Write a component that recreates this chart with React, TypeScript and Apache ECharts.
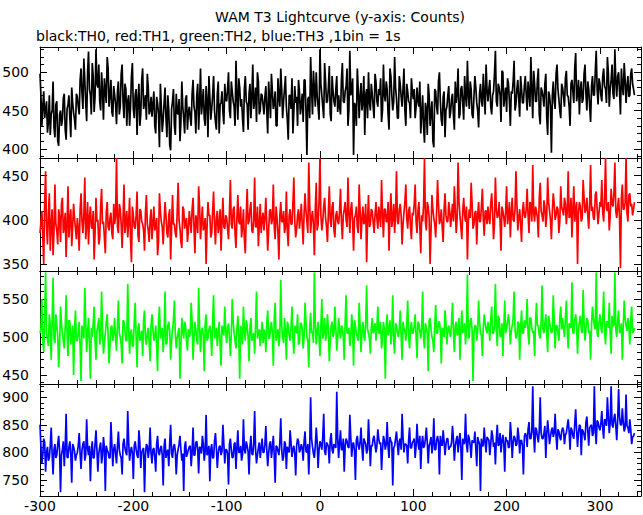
import React, { useEffect, useRef } from "react";
import * as echarts from "echarts";

// 1 bin = 1 s. Each channel is given as counts at even seconds (t = -300, -298, ...)
// and counts at odd seconds (t = -299, -297, ...).
const T_START = -300;
const X_MIN = -300;
const X_MAX = 344;

const TITLE = "WAM T3 Lightcurve (y-axis: Counts)";
const SUBTITLE = "black:TH0, red:TH1, green:TH2, blue:TH3 ,1bin = 1s";

// TH0 (black)
const TH0_EVEN = [
  498, 430, 475, 452, 421, 470, 445, 488, 415, 462, 404, 450, 438, 472, 412, 458, 440, 480, 447, 425,
  468, 445, 505, 452, 490, 436, 527, 470, 512, 448, 530, 480, 462, 500, 438, 475, 520, 455, 490, 442,
  470, 432, 488, 455, 510, 440, 478, 462, 430, 495, 452, 470, 418, 485, 445, 505, 460, 438, 480, 450,
  442, 475, 420, 460, 402, 455, 438, 480, 415, 450, 398, 462, 430, 472, 445, 410, 488, 440, 465, 425,
  455, 430, 490, 448, 470, 425, 505, 460, 440, 482, 415, 468, 452, 495, 435, 472, 420, 460, 448, 485,
  462, 500, 440, 475, 455, 515, 438, 480, 465, 422, 495, 458, 472, 440, 510, 462, 435, 488, 450, 470,
  445, 482, 420, 465, 498, 452, 475, 430, 468, 505, 440, 478, 455, 412, 470, 492, 448, 460, 430, 475,
  458, 435, 490, 392, 468, 520, 445, 478, 500, 455, 530, 470, 440, 488, 462, 508, 436, 475, 455, 495,
  470, 445, 512, 460, 482, 430, 528, 475, 392, 455, 505, 440, 486, 462, 418, 478, 500, 450, 472, 440,
  488, 455, 470, 435, 510, 462, 478, 425, 495, 450, 520, 466, 440, 485, 455, 505, 430, 475, 460, 492,
  465, 440, 480, 455, 420, 470, 408, 452, 485, 430, 462, 402, 475, 445, 500, 438, 468, 415, 455, 482,
  448, 472, 425, 460, 505, 445, 482, 438, 470, 515, 452, 478, 440, 495, 460, 428, 485, 455, 470, 510,
  462, 490, 445, 475, 528, 455, 480, 435, 500, 468, 448, 485, 430, 472, 515, 458, 490, 442, 478, 460,
  495, 450, 472, 520, 440, 485, 462, 505, 432, 475, 455, 498, 418, 470, 395, 488, 452, 510, 465, 440,
  480, 455, 502, 468, 430, 490, 460, 525, 472, 445, 488, 465, 510, 450, 478, 435, 495, 470, 528, 458,
  485, 462, 505, 478, 520, 455, 490, 472, 530, 468, 500, 445, 482, 512, 460, 495, 470, 505, 478,
];
const TH0_ODD = [
  470, 455, 440, 462, 435, 418, 450, 428, 458, 410, 445, 430, 466, 425, 452, 470, 415, 460, 438, 472,
  455, 490, 472, 518, 460, 500, 478, 445, 495, 468, 485, 510, 450, 475, 492, 460, 505, 470, 448, 482,
  458, 475, 445, 498, 462, 485, 430, 470, 455, 512, 440, 478, 465, 430, 490, 452, 470, 498, 445, 468,
  458, 430, 468, 445, 485, 422, 460, 440, 470, 405, 452, 478, 418, 448, 465, 435, 455, 420, 470, 448,
  440, 472, 455, 420, 485, 460, 445, 478, 430, 462, 495, 438, 470, 450, 425, 488, 458, 475, 432, 465,
  478, 450, 488, 462, 430, 470, 492, 455, 440, 478, 462, 425, 485, 468, 452, 480, 500, 445, 472, 458,
  468, 450, 488, 440, 475, 460, 430, 492, 455, 478, 462, 495, 438, 470, 452, 420, 482, 468, 490, 445,
  472, 490, 450, 465, 440, 478, 502, 455, 470, 438, 485, 455, 512, 460, 480, 445, 495, 462, 478, 448,
  455, 490, 462, 475, 505, 450, 470, 492, 460, 430, 478, 468, 450, 495, 470, 440, 462, 485, 455, 498,
  462, 478, 492, 450, 470, 488, 445, 505, 470, 462, 480, 440, 495, 468, 478, 450, 485, 462, 440, 475,
  478, 455, 462, 488, 445, 430, 460, 418, 470, 448, 410, 478, 455, 488, 462, 430, 475, 450, 470, 440,
  465, 445, 488, 472, 440, 478, 460, 495, 455, 470, 488, 445, 468, 480, 450, 472, 462, 498, 445, 478,
  478, 455, 470, 498, 462, 485, 470, 502, 455, 480, 492, 462, 475, 488, 450, 478, 465, 495, 460, 482,
  470, 488, 455, 478, 502, 462, 490, 445, 480, 468, 485, 440, 475, 455, 470, 462, 498, 478, 450, 485,
  468, 492, 470, 455, 485, 475, 505, 462, 490, 478, 460, 498, 472, 488, 455, 482, 470, 500, 478, 492,
  470, 495, 482, 460, 500, 478, 510, 465, 488, 495, 475, 505, 470, 490, 482, 468, 498, 485, 470,
];

// TH1 (red)
const TH1_EVEN = [
  385, 410, 350, 455, 372, 430, 395, 360, 440, 388, 412, 375, 425, 392, 358, 438, 400, 370, 418, 390,
  402, 365, 430, 385, 448, 395, 372, 415, 390, 355, 425, 400, 380, 435, 398, 362, 420, 388, 408, 378,
  395, 470, 385, 412, 368, 440, 398, 380, 425, 352, 405, 390, 432, 375, 410, 395, 365, 428, 388, 400,
  378, 415, 392, 360, 430, 398, 372, 420, 385, 405, 355, 428, 395, 380, 442, 390, 368, 412, 398, 375,
  410, 385, 425, 362, 400, 438, 378, 415, 392, 350, 420, 405, 385, 432, 372, 410, 395, 365, 425, 390,
  402, 378, 445, 390, 415, 368, 428, 395, 380, 412, 362, 435, 398, 420, 385, 448, 392, 370, 418, 400,
  388, 425, 365, 410, 395, 440, 378, 402, 355, 420, 398, 385, 432, 370, 412, 395, 448, 380, 405, 390,
  418, 372, 430, 398, 465, 385, 410, 360, 442, 395, 470, 388, 415, 402, 375, 438, 392, 420, 380, 410,
  395, 435, 378, 412, 400, 448, 385, 420, 365, 405, 392, 440, 378, 415, 398, 352, 428, 395, 410, 385,
  420, 390, 405, 445, 380, 412, 398, 365, 430, 402, 385, 455, 395, 418, 372, 408, 440, 390, 415, 378,
  405, 440, 385, 420, 362, 398, 470, 388, 415, 350, 428, 402, 380, 445, 395, 412, 375, 430, 398, 420,
  392, 418, 438, 385, 465, 405, 378, 425, 398, 355, 412, 442, 390, 408, 372, 420, 398, 435, 382, 410,
  415, 395, 430, 378, 448, 402, 420, 365, 410, 392, 438, 405, 380, 425, 398, 455, 388, 412, 375, 420,
  402, 435, 385, 418, 462, 398, 410, 380, 442, 405, 422, 392, 448, 410, 378, 430, 400, 415, 385, 438,
  410, 425, 395, 455, 405, 380, 438, 412, 350, 420, 398, 445, 408, 425, 390, 462, 415, 400, 432, 395,
  420, 445, 398, 470, 410, 388, 435, 415, 465, 402, 425, 345, 440, 412, 470, 398, 430, 418, 412,
];
const TH1_ODD = [
  398, 380, 420, 392, 405, 365, 412, 388, 395, 372, 402, 418, 385, 408, 395, 380, 412, 392, 402, 378,
  390, 412, 398, 405, 378, 420, 402, 392, 410, 385, 398, 372, 415, 395, 380, 408, 392, 402, 385, 418,
  405, 392, 418, 395, 402, 385, 410, 398, 378, 415, 392, 405, 382, 412, 398, 388, 408, 395, 375, 412,
  395, 388, 402, 375, 410, 392, 398, 405, 380, 412, 392, 395, 385, 408, 400, 375, 415, 390, 402, 388,
  398, 412, 392, 405, 385, 415, 398, 388, 402, 392, 405, 380, 410, 395, 402, 385, 412, 398, 392, 405,
  390, 408, 395, 412, 385, 402, 398, 415, 392, 378, 405, 395, 412, 388, 400, 392, 415, 395, 385, 408,
  402, 395, 388, 412, 400, 392, 415, 385, 405, 398, 410, 392, 388, 405, 395, 418, 398, 390, 412, 402,
  395, 408, 410, 385, 418, 402, 395, 412, 388, 420, 405, 398, 425, 392, 408, 400, 415, 388, 405, 398,
  410, 398, 405, 420, 392, 408, 412, 398, 402, 415, 385, 410, 402, 395, 418, 400, 392, 412, 398, 405,
  402, 415, 392, 408, 412, 398, 420, 405, 392, 418, 408, 398, 412, 405, 395, 420, 402, 410, 392, 408,
  418, 398, 410, 392, 405, 415, 398, 420, 402, 388, 412, 395, 408, 418, 400, 392, 412, 405, 398, 410,
  405, 398, 412, 402, 420, 392, 410, 405, 415, 398, 402, 418, 395, 410, 405, 398, 415, 402, 410, 395,
  402, 418, 408, 395, 412, 405, 398, 415, 402, 410, 395, 420, 408, 400, 412, 418, 402, 395, 410, 405,
  412, 405, 420, 398, 408, 415, 402, 425, 410, 398, 415, 405, 420, 400, 410, 418, 405, 412, 398, 415,
  405, 418, 410, 402, 425, 412, 398, 420, 408, 415, 402, 425, 412, 405, 418, 410, 402, 428, 412, 408,
  415, 408, 425, 412, 420, 405, 418, 430, 410, 415, 402, 425, 412, 420, 408, 428, 415, 405, 420,
];

// TH2 (green)
const TH2_EVEN = [
  505, 550, 480, 585, 498, 530, 470, 578, 492, 515, 460, 540, 505, 485, 555, 475, 520, 500, 450, 535,
  495, 520, 442, 510, 565, 480, 525, 445, 500, 540, 470, 515, 490, 560, 478, 505, 530, 465, 512, 495,
  525, 482, 548, 500, 465, 520, 495, 570, 478, 510, 488, 545, 460, 518, 500, 475, 535, 490, 512, 468,
  530, 495, 515, 455, 540, 505, 480, 560, 492, 520, 470, 510, 548, 485, 505, 445, 525, 498, 515, 482,
  500, 545, 470, 520, 495, 565, 480, 512, 455, 530, 498, 515, 475, 555, 505, 488, 520, 462, 510, 540,
  492, 518, 475, 550, 505, 485, 528, 445, 510, 540, 495, 515, 468, 525, 500, 478, 560, 505, 488, 520,
  510, 480, 535, 498, 520, 462, 545, 505, 488, 575, 500, 525, 470, 515, 495, 540, 478, 510, 530, 492,
  518, 485, 545, 500, 460, 532, 508, 585, 490, 520, 475, 550, 505, 495, 530, 468, 515, 500, 540, 482,
  525, 498, 512, 470, 555, 505, 488, 530, 462, 515, 500, 545, 480, 520, 495, 568, 505, 478, 525, 510,
  495, 540, 505, 485, 520, 445, 530, 510, 490, 555, 478, 515, 500, 535, 470, 512, 495, 548, 485, 520,
  505, 530, 472, 518, 498, 560, 485, 512, 455, 525, 500, 480, 542, 505, 520, 465, 510, 535, 490, 515,
  500, 545, 480, 520, 505, 470, 535, 510, 490, 582, 500, 525, 442, 515, 495, 548, 505, 475, 530, 510,
  520, 495, 540, 505, 570, 488, 525, 500, 475, 548, 512, 530, 490, 515, 560, 498, 520, 470, 535, 505,
  512, 550, 490, 525, 505, 475, 545, 515, 498, 568, 505, 530, 480, 520, 505, 555, 485, 515, 495, 540,
  525, 500, 548, 485, 515, 572, 505, 530, 478, 520, 510, 562, 495, 525, 505, 470, 540, 515, 585, 500,
  530, 505, 560, 490, 520, 545, 478, 515, 585, 500, 535, 510, 470, 548, 515, 525, 490, 540, 508,
];
const TH2_ODD = [
  512, 495, 525, 505, 488, 515, 520, 498, 530, 502, 488, 518, 495, 512, 505, 522, 490, 515, 508, 495,
  505, 488, 515, 498, 522, 505, 490, 512, 518, 495, 508, 525, 498, 510, 492, 520, 502, 488, 515, 505,
  498, 515, 505, 490, 522, 508, 495, 512, 505, 488, 520, 500, 512, 495, 508, 522, 498, 505, 492, 515,
  510, 502, 488, 520, 498, 512, 505, 490, 515, 508, 495, 522, 505, 498, 512, 490, 508, 520, 495, 510,
  505, 520, 498, 510, 490, 515, 508, 502, 518, 495, 510, 505, 522, 498, 512, 505, 490, 515, 502, 508,
  512, 498, 505, 520, 495, 510, 502, 515, 490, 508, 522, 500, 512, 495, 505, 518, 498, 510, 505, 492,
  505, 518, 498, 512, 505, 525, 495, 510, 502, 515, 492, 508, 520, 502, 512, 498, 515, 505, 490, 518,
  510, 502, 520, 495, 512, 505, 492, 518, 508, 500, 515, 498, 525, 505, 510, 495, 520, 505, 512, 498,
  508, 515, 500, 520, 505, 512, 498, 510, 522, 505, 495, 515, 508, 502, 520, 510, 498, 512, 505, 518,
  512, 505, 520, 498, 510, 515, 502, 522, 508, 495, 518, 505, 512, 500, 520, 508, 515, 502, 510, 505,
  515, 502, 520, 508, 512, 498, 518, 505, 522, 510, 495, 515, 505, 520, 508, 512, 500, 518, 510, 505,
  520, 508, 515, 502, 525, 510, 505, 518, 512, 498, 522, 510, 505, 515, 508, 520, 502, 512, 518, 505,
  512, 522, 505, 515, 510, 528, 502, 518, 512, 505, 520, 515, 508, 525, 510, 502, 518, 512, 505, 522,
  518, 505, 525, 512, 508, 520, 515, 502, 522, 510, 518, 505, 528, 512, 508, 520, 515, 505, 525, 510,
  512, 525, 508, 518, 512, 505, 522, 515, 510, 528, 505, 518, 512, 522, 508, 515, 525, 510, 505, 520,
  515, 525, 508, 520, 512, 505, 528, 515, 510, 522, 505, 518, 512, 525, 508, 515, 520, 505, 512,
];

// TH3 (blue)
const TH3_EVEN = [
  850, 780, 825, 765, 810, 790, 845, 760, 815, 795, 830, 728, 805, 775, 870, 790, 820, 745, 810, 785,
  800, 835, 770, 815, 785, 860, 795, 748, 820, 790, 840, 765, 810, 780, 828, 730, 805, 790, 855, 775,
  815, 780, 838, 795, 760, 825, 800, 875, 785, 810, 752, 820, 795, 840, 772, 805, 728, 815, 790, 845,
  780, 808, 765, 830, 795, 812, 740, 825, 800, 775, 850, 790, 815, 760, 805, 830, 785, 730, 820, 798,
  810, 775, 845, 795, 820, 762, 808, 830, 785, 868, 800, 748, 815, 790, 835, 772, 810, 795, 850, 780,
  805, 742, 825, 790, 815, 770, 840, 800, 785, 860, 798, 812, 760, 830, 795, 875, 780, 808, 790, 825,
  800, 848, 775, 815, 790, 830, 745, 810, 795, 862, 785, 820, 770, 805, 840, 792, 812, 758, 825, 800,
  815, 785, 838, 800, 760, 900, 810, 790, 845, 772, 820, 805, 870, 795, 815, 780, 835, 798, 812, 910,
  790, 840, 805, 765, 825, 810, 868, 792, 818, 750, 830, 805, 845, 785, 820, 798, 860, 775, 812, 830,
  800, 842, 815, 768, 830, 805, 855, 790, 820, 740, 812, 838, 795, 825, 870, 800, 815, 780, 845, 808,
  820, 790, 852, 805, 770, 830, 812, 845, 780, 818, 798, 862, 805, 830, 760, 815, 840, 795, 825, 805,
  810, 848, 785, 822, 800, 835, 750, 815, 870, 800, 825, 790, 818, 838, 775, 820, 730, 812, 845, 800,
  825, 795, 840, 810, 778, 850, 815, 800, 832, 765, 820, 808, 855, 790, 830, 812, 845, 798, 822, 760,
  835, 810, 855, 825, 920, 800, 842, 818, 900, 825, 835, 790, 858, 815, 840, 828, 870, 805, 838, 822,
  845, 815, 835, 860, 805, 840, 825, 878, 810, 850, 795, 838, 822, 865, 812, 848, 830, 920, 815, 855,
  840, 875, 825, 858, 900, 835, 920, 845, 870, 822, 915, 850, 880, 838, 905, 845, 860, 815, 830,
];
const TH3_ODD = [
  810, 795, 818, 800, 785, 812, 798, 805, 790, 815, 802, 795, 820, 808, 792, 810, 798, 815, 802, 795,
  812, 798, 805, 820, 795, 808, 812, 800, 790, 815, 805, 798, 818, 795, 808, 812, 800, 790, 815, 805,
  798, 812, 805, 790, 815, 808, 795, 820, 802, 798, 812, 805, 790, 818, 800, 808, 795, 812, 805, 798,
  805, 792, 815, 800, 808, 795, 812, 790, 805, 818, 798, 810, 802, 795, 815, 805, 798, 810, 792, 805,
  812, 800, 795, 818, 805, 810, 798, 815, 802, 795, 812, 805, 790, 820, 808, 798, 812, 802, 815, 805,
  798, 815, 805, 792, 818, 808, 800, 812, 795, 805, 820, 802, 810, 798, 815, 805, 795, 818, 808, 800,
  815, 805, 798, 820, 808, 795, 812, 802, 818, 805, 792, 815, 810, 800, 818, 805, 798, 812, 820, 805,
  808, 820, 802, 815, 810, 825, 798, 812, 820, 805, 815, 828, 802, 818, 810, 822, 805, 815, 808, 825,
  818, 805, 825, 812, 820, 808, 828, 815, 802, 822, 812, 818, 808, 825, 815, 805, 820, 812, 825, 815,
  812, 825, 818, 805, 822, 815, 810, 828, 818, 808, 825, 815, 820, 805, 828, 815, 812, 822, 808, 818,
  825, 812, 818, 830, 815, 808, 825, 818, 812, 828, 815, 805, 822, 818, 830, 812, 820, 815, 825, 810,
  818, 825, 812, 830, 820, 808, 825, 818, 815, 832, 812, 822, 818, 808, 828, 815, 825, 812, 820, 828,
  822, 815, 830, 818, 825, 812, 835, 820, 815, 828, 822, 810, 832, 818, 825, 815, 830, 822, 812, 828,
  830, 842, 825, 838, 832, 845, 828, 840, 835, 825, 848, 832, 838, 828, 845, 835, 830, 842, 828, 838,
  840, 832, 848, 838, 845, 830, 852, 840, 835, 848, 842, 832, 855, 838, 845, 850, 835, 842, 858, 845,
  852, 845, 860, 848, 865, 855, 850, 862, 848, 858, 865, 850, 855, 845, 848, 835, 842, 828, 835,
];

const EVEN_VALUES = [TH0_EVEN, TH1_EVEN, TH2_EVEN, TH3_EVEN];
const ODD_VALUES = [TH0_ODD, TH1_ODD, TH2_ODD, TH3_ODD];
const SERIES_NAMES = ["TH0", "TH1", "TH2", "TH3"];
const COLORS = ["#000000", "#ff0000", "#00ff00", "#0000ff"];
const Y_MIN = [388, 342, 438, 721];
const Y_MAX = [533, 470, 587, 924];
const PANEL_TOPS = [47, 158, 271, 384];
const PANEL_HEIGHTS = [111, 113, 113, 112];

const FONT = "DejaVu Sans";

function buildSeriesData(even: number[], odd: number[]) {
  const out: [number, number][] = [];
  const n = Math.max(even.length, odd.length);
  for (let j = 0; j < n; j++) {
    if (j < even.length) out.push([T_START + 2 * j, even[j]]);
    if (j < odd.length) out.push([T_START + 2 * j + 1, odd[j]]);
  }
  return out;
}

function buildOption() {
  const grids: any[] = [];
  const xAxes: any[] = [];
  const yAxes: any[] = [];
  const series: any[] = [];

  const axisLineOn = { show: true, onZero: false, lineStyle: { color: "#000", width: 1 } };
  const axisLineOff = { show: false, onZero: false };
  const tick = (len: number) => ({ show: true, inside: true, length: len, lineStyle: { color: "#000", width: 1 } });

  for (let i = 0; i < 4; i++) {
    const isLast = i === 3;
    for (let k = 0; k < 2; k++) {
      grids.push({
        left: 40,
        right: 2,
        top: PANEL_TOPS[i],
        height: PANEL_HEIGHTS[i],
        containLabel: false,
        outerBoundsMode: "none",
      });
    }
    const gMaj = 2 * i;
    const gMin = 2 * i + 1;
    const xBase = { type: "value", min: X_MIN, max: X_MAX, splitLine: { show: false } };
    xAxes.push({
      ...xBase,
      gridIndex: gMaj,
      position: "bottom",
      interval: 100,
      axisLine: axisLineOn,
      axisTick: tick(7),
      axisLabel: {
        show: isLast,
        margin: 3,
        fontSize: 14,
        fontFamily: FONT,
        color: "#000",
        showMinLabel: true,
        showMaxLabel: false,
      },
    });
    xAxes.push({
      ...xBase,
      gridIndex: gMaj,
      position: "top",
      interval: 100,
      axisLine: axisLineOn,
      axisTick: tick(7),
      axisLabel: { show: false },
    });
    xAxes.push({
      ...xBase,
      gridIndex: gMin,
      position: "bottom",
      interval: 20,
      axisLine: axisLineOff,
      axisTick: tick(4),
      axisLabel: { show: false },
    });
    xAxes.push({
      ...xBase,
      gridIndex: gMin,
      position: "top",
      interval: 20,
      axisLine: axisLineOff,
      axisTick: tick(4),
      axisLabel: { show: false },
    });

    const yBase = { type: "value", min: Y_MIN[i], max: Y_MAX[i], splitLine: { show: false }, scale: true };
    yAxes.push({
      ...yBase,
      gridIndex: gMaj,
      position: "left",
      splitNumber: 3,
      minInterval: 50,
      maxInterval: 50,
      axisLine: axisLineOn,
      axisTick: tick(7),
      axisLabel: {
        show: true,
        margin: 11,
        fontSize: 14,
        fontFamily: FONT,
        color: "#000",
        showMinLabel: false,
        showMaxLabel: false,
      },
    });
    yAxes.push({
      ...yBase,
      gridIndex: gMaj,
      position: "right",
      splitNumber: 3,
      minInterval: 50,
      maxInterval: 50,
      axisLine: axisLineOn,
      axisTick: tick(7),
      axisLabel: { show: false },
    });
    yAxes.push({
      ...yBase,
      gridIndex: gMin,
      position: "left",
      splitNumber: 10,
      minInterval: 10,
      maxInterval: 10,
      axisLine: axisLineOff,
      axisTick: tick(4),
      axisLabel: { show: false },
    });
    yAxes.push({
      ...yBase,
      gridIndex: gMin,
      position: "right",
      splitNumber: 10,
      minInterval: 10,
      maxInterval: 10,
      axisLine: axisLineOff,
      axisTick: tick(4),
      axisLabel: { show: false },
    });

    series.push({
      name: SERIES_NAMES[i],
      type: "line",
      xAxisIndex: 4 * i,
      yAxisIndex: 4 * i,
      data: buildSeriesData(EVEN_VALUES[i], ODD_VALUES[i]),
      showSymbol: false,
      symbol: "none",
      clip: true,
      silent: true,
      lineStyle: { color: COLORS[i], width: 1.7 },
      itemStyle: { color: COLORS[i] },
    });
  }

  return {
    animation: false,
    backgroundColor: "#ffffff",
    grid: grids,
    xAxis: xAxes,
    yAxis: yAxes,
    series,
    graphic: [
      {
        type: "text",
        x: 340,
        y: 17,
        style: {
          text: TITLE,
          fill: "#000",
          fontSize: 14,
          fontFamily: FONT,
          align: "center",
          verticalAlign: "middle",
        },
      },
      {
        type: "text",
        x: 36,
        y: 36,
        style: {
          text: SUBTITLE,
          fill: "#000",
          fontSize: 14,
          fontFamily: FONT,
          align: "left",
          verticalAlign: "middle",
        },
      },
    ],
  };
}

export default function App() {
  const ref = useRef<HTMLDivElement>(null);
  useEffect(() => {
    if (!ref.current) return;
    const chart = echarts.init(ref.current, null, { renderer: "svg" });
    chart.setOption(buildOption() as any);
    return () => {
      chart.dispose();
    };
  }, []);
  return (
    <div
      ref={ref}
      style={{ position: "absolute", left: 0, top: 0, width: 643, height: 515, background: "#fff" }}
    />
  );
}
